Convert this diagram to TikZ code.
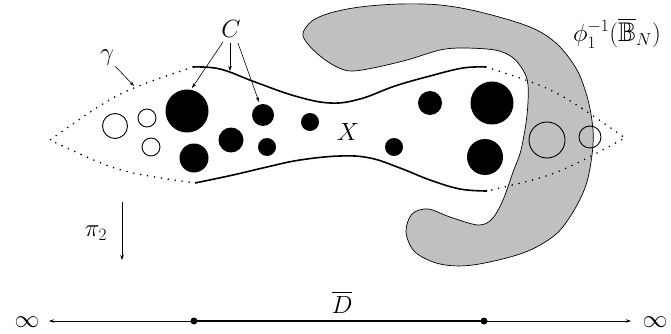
\documentclass[tikz,border=0pt]{standalone}
\usepackage{amssymb}
\usetikzlibrary{arrows.meta}
\definecolor{shade}{RGB}{192,192,192}
\tikzset{
  lbl/.style={font=\fontsize{27}{31}\selectfont, inner sep=0pt},
  thinarrow/.style={line width=0.6pt, -{Stealth[length=5pt,width=3.5pt]}},
  dotline/.style={line width=1.8pt, line cap=round, dash pattern=on 0pt off 7pt},
  bound/.style={line width=1.6pt},
  hole/.style={line width=0.9pt},
  blob/.style={fill=black},
}
\begin{document}
\begin{tikzpicture}[x=1pt,y=-1pt]
\useasboundingbox (0,0) rectangle (671,334);
% gray region
\draw[fill=shade, line width=0.7pt] plot[smooth cycle, tension=0.55] coordinates {
 (303,33) (312,21) (330,13) (360,7) (400,4) (440,5) (480,12) (530,27) (557,44)
 (577,70) (588,100) (593,130) (592,155) (586,185) (573,212) (555,235) (523,253)
 (473,265) (440,264) (415,252) (406,232) (412,214) (428,209) (450,217) (478,225)
 (492,219) (503,200) (513,172) (521,150) (527,115) (528,85) (523,70) (512,57)
 (495,50) (463,48) (440,50) (407,60) (373,68) (350,71) (335,66) (320,56) (307,43)};
% dotted ends
\coordinate (ul) at (193,67);
\coordinate (ll) at (195,183);
\coordinate (tl) at (50,140);
\coordinate (ur) at (486,67);
\coordinate (lr) at (487,191);
\coordinate (tr) at (625,138);
\draw[dotline] (ul) .. controls (118,92) .. (tl) .. controls (118,172) .. (ll);
\draw[dotline] (ur) .. controls (555,89) .. (tr) .. controls (556,175) .. (lr);
% solid boundaries
\draw[bound] plot[smooth, tension=0.65] coordinates {(193,67) (220,69) (255,82) (295,96) (330,103) (360,99) (395,86) (430,76) (463,68) (486,67)};
\draw[bound] plot[smooth, tension=0.65] coordinates {(195,183) (233,175) (267,167) (300,160) (340,156) (370,158) (400,168) (430,180) (460,189) (487,191)};
% holes (open circles)
\draw[hole] (115,126) circle (12.5);
\draw[hole] (147,118) circle (9);
\draw[hole] (151,147) circle (9);
\draw[hole] (547,140) circle (18);
\draw[hole] (590,137) circle (11);
% filled discs
\fill[blob] (187,111) circle (21.5);
\fill[blob] (194,158) circle (14.5);
\fill[blob] (231,140) circle (12.5);
\fill[blob] (263,115) circle (11);
\fill[blob] (267,147) circle (9);
\fill[blob] (310,122) circle (9);
\fill[blob] (430,103) circle (12);
\fill[blob] (492,103) circle (21.5);
\fill[blob] (394,147) circle (9);
\fill[blob] (485,157) circle (18);
% labels
\node[lbl] (C) at (231,29) {$C$};
\coordinate (c1s) at (223,42); \coordinate (c1e) at (192,88);
\coordinate (c2s) at (230,43); \coordinate (c2e) at (230,71);
\coordinate (c3s) at (238,43); \coordinate (c3e) at (259,102);
\draw[thinarrow] (c1s) -- (c1e);
\draw[thinarrow] (c2s) -- (c2e);
\draw[thinarrow] (c3s) -- (c3e);
\node[lbl] (gam) at (107,58) {$\gamma$};
\coordinate (gs) at (115,66); \coordinate (ge) at (134,86);
\draw[thinarrow] (gs) -- (ge);
\node[lbl] (X) at (348,132) {$X$};
\node[lbl] (phi) at (617,33) {$\phi_1^{-1}(\overline{\mathbb{B}}_N)$};
\node[lbl] (pi) at (96,233) {$\pi_2$};
\coordinate (ps) at (122,202); \coordinate (pe) at (122,260);
\draw[thinarrow] (ps) -- (pe);
% bottom line
\node[lbl] (infl) at (27,322) {$\infty$};
\node[lbl] (infr) at (655,322) {$\infty$};
\coordinate (dl) at (194,321);
\coordinate (dr) at (484,321);
\coordinate (al) at (49,321);
\coordinate (ar) at (631,321);
\draw[line width=1.6pt] (dl) -- (dr);
\draw[thinarrow] (dl) -- (al);
\draw[thinarrow] (dr) -- (ar);
\fill (dl) circle (3.5);
\fill (dr) circle (3.5);
\node[lbl] (D) at (342,302) {$\overline{D}$};
\end{tikzpicture}
\end{document}
